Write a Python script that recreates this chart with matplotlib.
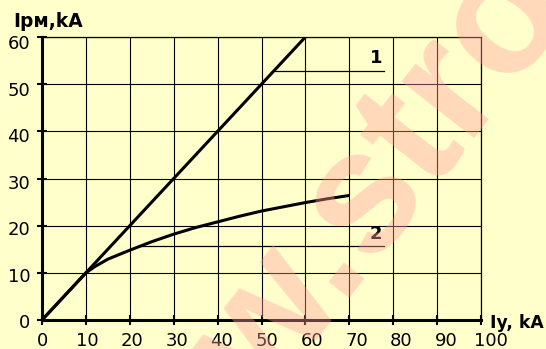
import matplotlib.pyplot as plt
from matplotlib.transforms import ScaledTranslation

# data
x1 = [0, 60]
y1 = [0, 60]
x2 = [0, 10, 12, 15, 20, 25, 30, 35, 40, 45, 50, 55, 60, 65, 70]
y2 = [0, 10, 11.3, 12.9, 14.8, 16.6, 18.2, 19.6, 20.8, 22.0, 23.1, 24.0, 24.9, 25.7, 26.4]
xticks = list(range(0, 101, 10))
yticks = list(range(0, 61, 10))

bg = "#ffffcc"
plt.rcParams["font.family"] = ["DejaVu Sans"]

fig = plt.figure(figsize=(5.46, 3.49), dpi=100, facecolor=bg)
ax = fig.add_axes([42 / 546, 1 - 320 / 349, 439 / 546, 283 / 349])  # axes in pixels
ax.set_facecolor(bg)

ax.plot(x1, y1, color="black", lw=2.2, solid_capstyle="butt")
ax.plot(x2, y2, color="black", lw=2.2, solid_capstyle="butt")

# leader lines with labels
ax.plot([53, 77.8], [52.8, 52.8], color="black", lw=0.9)
ax.text(77.5, 53.6, "1", fontsize=13, fontweight="bold", ha="right", va="bottom")
ax.plot([22, 77.8], [15.6, 15.6], color="black", lw=0.9)
ax.text(77.5, 16.4, "2", fontsize=13, fontweight="bold", ha="right", va="bottom")

ax.set_xlim(0, 100)
ax.set_ylim(0, 60)
ax.set_xticks(xticks)
ax.set_yticks(yticks)
ax.grid(True, color="black", lw=0.8)
ax.tick_params(direction="inout", length=7, width=1.5, labelsize=13, pad=5)
for s in ["left", "bottom"]:
    ax.spines[s].set_linewidth(2.2)
for s in ["top", "right"]:
    ax.spines[s].set_linewidth(0.9)

# the labels in the original drift a little from their ticks
for i, lab in enumerate(ax.get_xticklabels()):
    lab.set_transform(lab.get_transform() + ScaledTranslation((0.5 + 0.95 * i) / 100, 0, fig.dpi_scale_trans))
for i, lab in enumerate(ax.get_yticklabels()):
    lab.set_transform(lab.get_transform() + ScaledTranslation(0, -(1.5 + 0.6 * i) / 100, fig.dpi_scale_trans))

fig.text(13 / 546, 1 - 27 / 349, "Iрм,kA", fontsize=13.4, fontweight="bold", ha="left", va="baseline")
fig.text(490 / 546, 1 - 328 / 349, "Iy, kA", fontsize=12.4, fontweight="bold", ha="left", va="baseline")

# watermark over everything
fig.text(98 / 546, -272 / 349, "www.stro", fontsize=125, fontweight="bold", family="Liberation Sans",
         color="#ff9f9f", alpha=0.4, rotation=52, ha="left", va="baseline", rotation_mode="anchor", zorder=10)

fig.savefig("out.png", dpi=100, facecolor=bg)
